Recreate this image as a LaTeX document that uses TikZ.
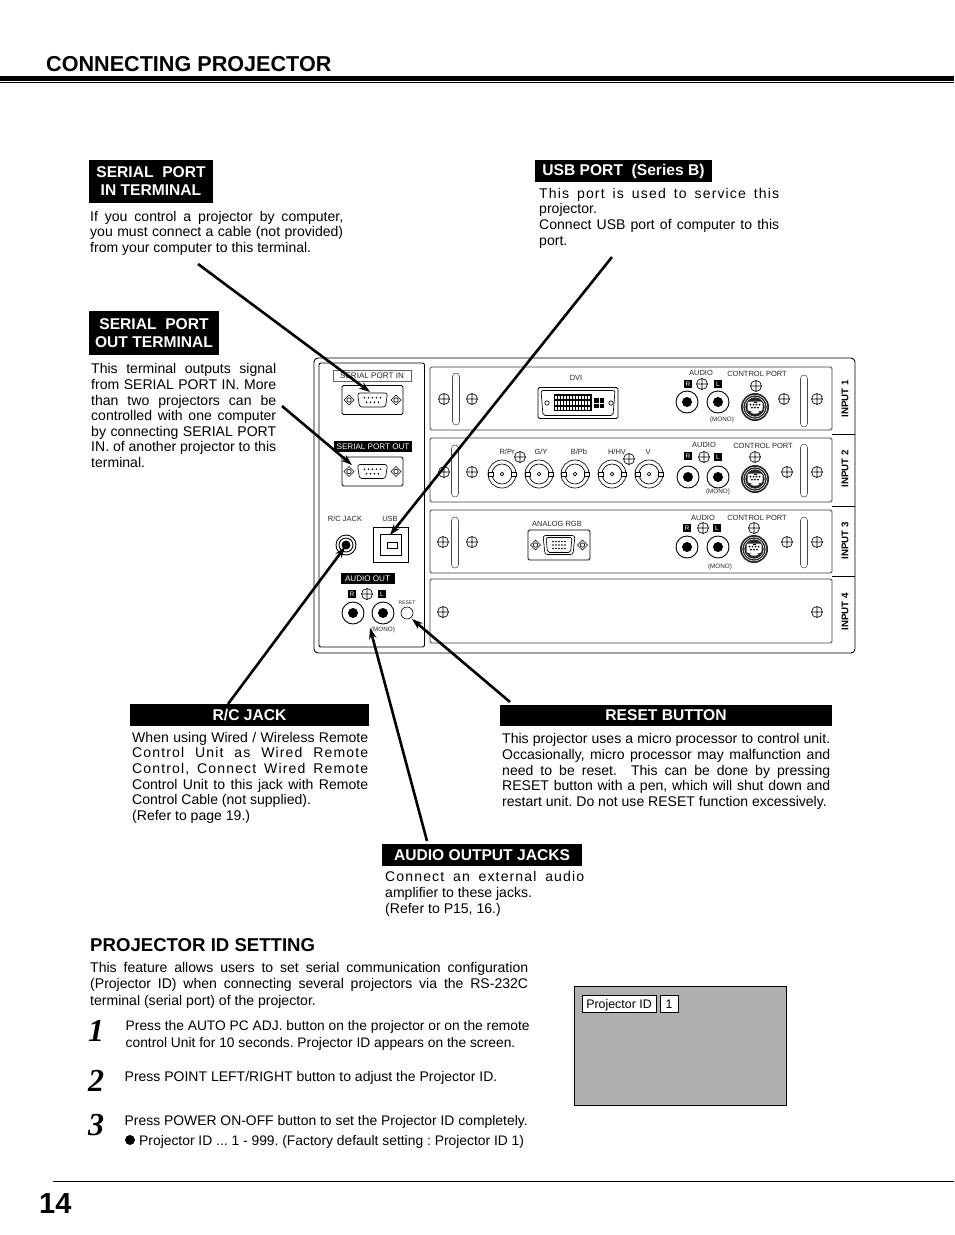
\documentclass[tikz,border=0pt]{standalone}
\usepackage{fontspec}
\setmainfont{Liberation Sans}
\newfontfamily\numfont{Liberation Serif}
\usetikzlibrary{arrows.meta}
\newcommand{\Jl}[1]{\leavevmode\hbox to\hsize{#1}}
\newcommand{\Jt}[1]{\leavevmode\hbox to\hsize{\addfontfeature{LetterSpace=8}#1}}
\newcommand{\Screw}[2]{\draw[screwline] (#1,#2) circle (5.5pt) +(-5.5,0) -- +(5.5,0) +(0,-5.5) -- +(0,5.5);}
\newcommand{\Slot}[3]{\draw[slotline,rounded corners=3.5pt] (#1-3.5,#2) rectangle (#1+3.5,#3);}
\newcommand{\Rca}[2]{\draw[jackline,fill=white] (#1,#2) circle (11pt); \fill (#1,#2) circle (5pt);}
\newcommand{\Bnc}[2]{\begin{scope}[shift={(#1,#2)}]
  \draw[screwline] (0,0) circle (14pt) (0,0) circle (10pt) (0,0) circle (1.8pt);
  \draw[screwline,fill=white] (-14,-2) rectangle (-9,2) (9,-2) rectangle (14,2);
\end{scope}}
\newcommand{\Din}[2]{\begin{scope}[shift={(#1,#2)}]
  \fill[black!85] (0,0) circle (14pt);
  \draw[white,line width=.5pt] (0,0) circle (12pt) (0,0) circle (10pt);
  \fill[white,rounded corners=2pt] (-7.5,-5.5) rectangle (7.5,4) (-4,4) rectangle (4,6.5);
  \foreach \px in {-4.5,-1.5,1.5,4.5} \fill (\px,-2.5) circle (1pt);
  \foreach \px in {-3,0,3} \fill (\px,.5) circle (1pt);
  \fill (-1.5,-5.5) rectangle (1.5,-3.8);
\end{scope}}
\newcommand{\Dia}[2]{\draw[screwline,fill=white] (#1-5,#2) -- (#1,#2-5) -- (#1+5,#2) -- (#1,#2+5) -- cycle (#1,#2) circle (2.2pt);}
\newcommand{\Dsub}[2]{\begin{scope}[shift={(#1,#2)}]
  \draw[jackline,rounded corners=1.5pt] (-30.5,-14.5) rectangle (30.5,14.5);
  \Dia{-23.5}{0}\Dia{23.5}{0}
  \draw[screwline,rounded corners=2.5pt] (-15,-7) -- (15,-7) -- (13,7) -- (-13,7) -- cycle;
  \foreach \px in {-8,-4,0,4,8} \fill (\px,-2.2) circle (.9pt);
  \foreach \px in {-6,-2,2,6} \fill (\px,2.2) circle (.9pt);
\end{scope}}
\newcommand{\Vga}[2]{\begin{scope}[shift={(#1,#2)}]
  \draw[jackline,rounded corners=1.5pt] (-31,-15) rectangle (31,15);
  \Dia{-23.5}{0}\Dia{23.5}{0}
  \draw[screwline,rounded corners=2.5pt] (-16,-9.5) -- (16,-9.5) -- (14,9.5) -- (-14,9.5) -- cycle;
  \draw[screwline,rounded corners=2pt] (-13,-7.5) -- (13,-7.5) -- (11.5,7.5) -- (-11.5,7.5) -- cycle;
  \foreach \py in {-3.5,0,3.5}{\foreach \px in {-6,-3,0,3,6} \fill (\px,\py) circle (.9pt);}
\end{scope}}
\newcommand{\Dvi}[2]{\begin{scope}[shift={(#1,#2)}]
  \draw[jackline,rounded corners=1.5pt] (-40,-15.5) rectangle (40,15.5);
  \draw[screwline,rounded corners=2pt] (-37,-12.5) -- (37,-12.5) -- (35,12.5) -- (-35,12.5) -- cycle;
  \draw[screwline,fill=white] (-31,0) circle (2.2pt) (33,0) circle (2.2pt);
  \fill (-24,-9) rectangle (14,8);
  \fill[white] (14,-9) rectangle (26,8);
  \foreach \py in {-7.5,-2,3.5}{\foreach \px in {-23,-20,...,-7}{\fill[white] (\px,\py) rectangle +(2,3.5);}
    \foreach \px in {-5,-2,...,12}{\fill[white] (\px,\py) rectangle +(2,3.5);}}
  \fill (16,-5) rectangle (26,5);
  \draw[white,line width=.7pt] (21,-5) -- (21,5) (16,0) -- (26,0);
\end{scope}}
\tikzset{
  screwline/.style={line width=.65pt},
  slotline/.style={line width=.55pt,draw=black!70},
  jackline/.style={line width=.9pt},
  baybox/.style={draw=black!75,line width=.9pt,rounded corners=1.5pt},
  para/.style={anchor=north west,inner sep=0pt,text width=#1pt,align=left,
    font=\fontsize{14.05}{15.6}\selectfont\frenchspacing,
    execute at begin node={\spaceskip=0pt \xspaceskip=0pt }},
  tiny/.style={inner sep=0pt,font=\fontsize{7.5}{8}\selectfont,text=black!85},
  smallr/.style={inner sep=0pt,font=\fontsize{6.3}{7}\selectfont,text=black!85},
  blacktag/.style={fill=black,text=white,inner sep=0pt,font=\bfseries\fontsize{15.6}{18}\selectfont,align=center},
  tag/.style={fill=black,text=white,inner sep=0pt,font=\fontsize{8.1}{9}\selectfont},
  rl/.style={fill=black,text=white,inner sep=0pt,minimum width=8pt,minimum height=8pt,font=\fontsize{6.5}{7}\selectfont},
  inputlab/.style={rotate=90,inner sep=0pt,font=\bfseries\fontsize{9.7}{10}\selectfont},
  callout/.style={line width=2.6pt,-{Stealth[length=11pt,width=7.5pt]}},
  stepnum/.style={anchor=base,inner sep=0pt,font=\numfont\bfseries\itshape\fontsize{32}{32}\selectfont},
  osdtext/.style={draw=black,line width=.5pt,fill=white,minimum height=17pt,inner sep=0pt,text height=11pt,text depth=2pt,font=\fontsize{12.4}{14}\selectfont},
}
\begin{document}
\begin{tikzpicture}[x=1pt,y=-1pt]
\path[use as bounding box,fill=white] (0,0) rectangle (954,1235);
% header
\node[anchor=base west,inner sep=0pt,font=\bfseries\fontsize{21.6}{26}\selectfont] (title) at (46,71.5) {CONNECTING PROJECTOR};
\fill (0,76) rectangle (954,80.5);
\fill (0,81.8) rectangle (954,82.8);
% footer
\fill (53,1181) rectangle (954,1182);
\node[anchor=base west,inner sep=0pt,font=\bfseries\fontsize{29}{34}\selectfont] (page) at (39,1213) {14};
% callout headings
\node[blacktag,minimum width=124pt,minimum height=43pt] (hin) at (151,181.5) {SERIAL\ \ PORT\\IN TERMINAL};
\node[blacktag,minimum width=177pt,minimum height=22pt] (husb) at (623.5,171) {\raisebox{-.8pt}{USB PORT\ \ (Series B)}};
\node[blacktag,minimum width=130pt,minimum height=44pt] (hout) at (154,333) {SERIAL\ \ PORT\\OUT TERMINAL};
\node[blacktag,minimum width=239pt,minimum height=22pt] (hrc) at (249.5,715) {\raisebox{-.5pt}{R/C JACK}};
\node[blacktag,minimum width=332pt,minimum height=21pt] (hreset) at (666,715.5) {RESET BUTTON};
\node[blacktag,minimum width=200pt,minimum height=22pt] (haudio) at (482,855) {AUDIO OUTPUT JACKS};
% paragraphs
\node[para=253] (pin) at (90,211) {\Jl{If you control a projector by computer,}\\\Jl{you must connect a cable (not provided)}\\from your computer to this terminal.};
\node[para=240] (pusb) at (539,188) {\Jt{This port is used to service this}\\projector.\\\Jl{Connect USB port of computer to this}\\port.};
\node[para=185] (pout) at (91,363.5) {\Jl{This terminal outputs signal}\\\Jl{from SERIAL PORT IN. More}\\\Jl{than two projectors can be}\\\Jl{controlled with one computer}\\\Jl{by connecting SERIAL PORT}\\\Jl{IN. of another projector to this}\\terminal.};
\node[para=236] (prc) at (132,732) {\Jl{When using Wired / Wireless Remote}\\\Jt{Control Unit as Wired Remote}\\\Jt{Control, Connect Wired Remote}\\\Jl{Control Unit to this jack with Remote}\\Control Cable (not supplied).\\(Refer to page 19.)};
\node[para=328] (preset) at (502,733.5) {\Jl{This projector uses a micro processor to control unit.}\\\Jl{Occasionally, micro processor may malfunction and}\\\Jl{need to be reset.\ \ This can be done by pressing}\\\Jl{RESET button with a pen, which will shut down and}\\restart unit. Do not use RESET function excessively.};
\node[para=199,font=\fontsize{14.05}{15.9}\selectfont\frenchspacing] (paudio) at (385,871) {\Jt{Connect an external audio}\\amplifier to these jacks.\\(Refer to P15, 16.)};
% projector id
\node[anchor=base west,inner sep=0pt,font=\bfseries\fontsize{18.6}{22}\selectfont] (hid) at (90,951) {PROJECTOR ID SETTING};
\node[para=438,font=\fontsize{14.05}{16.5}\selectfont\frenchspacing] (pid) at (90,962) {\Jl{This feature allows users to set serial communication configuration}\\\Jl{(Projector ID) when connecting several projectors via the RS-232C}\\terminal (serial port) of the projector.};
\node[stepnum] (n1) at (96,1041) {1};
\node[stepnum] (n2) at (96,1091) {2};
\node[stepnum] (n3) at (96,1135) {3};
\node[para=440,font=\fontsize{13.8}{17}\selectfont\frenchspacing] (s1) at (125.5,1020) {Press the AUTO PC ADJ. button on the projector or on the remote\\control Unit for 10 seconds. Projector ID appears on the screen.};
\node[para=440,font=\fontsize{14}{17}\selectfont\frenchspacing] (s2) at (124.5,1071) {Press POINT LEFT/RIGHT button to adjust the Projector ID.};
\node[para=440,font=\fontsize{13.9}{17}\selectfont\frenchspacing] (s3) at (124.5,1115) {Press POWER ON-OFF button to set the Projector ID completely.};
\fill (130,1140) circle (5pt);
\node[para=420,font=\fontsize{13.85}{17}\selectfont\frenchspacing] (s3b) at (139,1135) {Projector ID ... 1 - 999. (Factory default setting : Projector ID 1)};
% osd
\node[draw=black,line width=.5pt,fill=black!31,minimum width=212pt,minimum height=119pt,inner sep=0pt] (osd) at (680.5,1045.5) {};
\node[osdtext,minimum width=74pt] (osdl) at (619,1003.5) {Projector ID};
\node[osdtext,minimum width=18pt] (osdv) at (669,1003.5) {1};
% panel
\draw[line width=.9pt,rounded corners=4pt] (314,358) rectangle (855,653);
\draw[line width=.9pt,rounded corners=2pt] (319,363) rectangle (424.5,647);
\draw[baybox] (430,367) rectangle (832,430);
\draw[baybox] (430,438) rectangle (832,502);
\draw[baybox] (430,510) rectangle (832,573);
\draw[baybox] (430,579) rectangle (832,643);
\draw[line width=.7pt] (832,434) -- (855,434) (832,506) -- (855,506) (832,576) -- (855,576);
\node[inputlab] (i1) at (845,399) {INPUT 1};
\node[inputlab] (i2) at (845,469) {INPUT 2};
\node[inputlab] (i3) at (845,541) {INPUT 3};
\node[inputlab] (i4) at (845,612) {INPUT 4};
% left column
\node[draw=black!60,line width=.5pt,fill=white,minimum width=78pt,minimum height=11pt,inner sep=0pt,font=\fontsize{8.1}{9}\selectfont,text=black!85] (lin) at (372,375.5) {SERIAL PORT IN};
\Dsub{372.5}{400}
\node[tag,minimum width=78pt,minimum height=11pt] (lout) at (373,446.5) {SERIAL PORT OUT};
\Dsub{372.5}{471.5}
\node[tiny] (lrc) at (345,519) {R/C JACK};
\node[tiny] (lusb) at (390,519) {USB};
\draw[jackline] (346,545) circle (10pt) (346,545) circle (7pt);
\fill (346,545) circle (4.5pt);
\draw[jackline] (373.5,527.5) rectangle (408.5,562);
\draw[jackline] (380.5,534) rectangle (401.5,555);
\draw[screwline] (387,542) rectangle (397,548);
\node[tag,minimum width=54pt,minimum height=11pt] (laud) at (367.5,578.5) {AUDIO OUT};
\node[rl] (rr0) at (352,594) {R};
\Screw{367}{594}
\node[rl] (ll0) at (382,594) {L};
\Rca{353}{613}
\Rca{383}{613}
\node[inner sep=0pt,font=\fontsize{5}{6}\selectfont,text=black!85] (lrst) at (407,602.5) {RESET};
\draw[screwline] (407,613) circle (6pt);
\node[smallr] (mono0) at (383,630) {(MONO)};
% bay screws and slots
\Slot{456}{373}{425}\Slot{804}{375}{427}
\Slot{455}{445}{497}\Slot{804}{444}{497}
\Slot{455}{517}{568}\Slot{804}{517}{568}
\Screw{444}{399}\Screw{472}{399}\Screw{784}{399}\Screw{817}{399}
\Screw{444}{472}\Screw{472}{472}\Screw{787}{472}\Screw{817}{472}
\Screw{443}{542}\Screw{472}{542}\Screw{787}{542}\Screw{817}{542}
\Screw{443}{612}\Screw{817}{612}
% bay 1
\node[tiny] (ldvi) at (576,377.5) {DVI};
\Dvi{578}{403}
\node[tiny] (a1) at (701,372.5) {AUDIO};
\node[tiny] (c1) at (757,373.5) {CONTROL PORT};
\node[rl] (r1) at (688,384) {R};
\Screw{702}{384}
\node[rl] (l1) at (718,384) {L};
\Rca{687}{402}\Rca{718}{402}
\Screw{756}{386}
\Din{755}{407}
\node[smallr] (m1) at (722,420) {(MONO)};
% bay 2
\node[tiny] (b1) at (507,452) {R/Pr};
\node[tiny] (b2) at (541,452) {G/Y};
\node[tiny] (b3) at (579,452) {B/Pb};
\node[tiny] (b4) at (617,452) {H/HV};
\node[tiny] (b5) at (648,452) {V};
\Screw{520}{457}\Screw{629}{459}
\Bnc{502}{474}\Bnc{539}{474}\Bnc{575}{474}\Bnc{612}{474}\Bnc{649}{474}
\node[tiny] (a2) at (704,444.5) {AUDIO};
\node[tiny] (c2) at (763,445.5) {CONTROL PORT};
\node[rl] (r2) at (688,456) {R};
\Screw{704}{457}
\node[rl] (l2) at (718,457) {L};
\Rca{688}{477}\Rca{718}{477}
\Screw{755}{457}
\Din{755}{479}
\node[smallr] (m2) at (718,492) {(MONO)};
% bay 3
\node[tiny] (lrgb) at (557,523.5) {ANALOG RGB};
\Vga{559}{545}
\node[tiny] (a3) at (703,517.5) {AUDIO};
\node[tiny] (c3) at (757,517.5) {CONTROL PORT};
\node[rl] (r3) at (687,528) {R};
\Screw{703}{528}
\node[rl] (l3) at (717,528) {L};
\Rca{687}{547}\Rca{718}{547}
\Screw{754}{528}
\Din{754}{549}
\node[smallr] (m3) at (720,567) {(MONO)};
% connectors
\coordinate (f1) at (198,264);\coordinate (t1) at (370,392);
\coordinate (f2) at (282,406);\coordinate (t2) at (352,465);
\coordinate (f3) at (612,257);\coordinate (t3) at (390,535);
\coordinate (f4) at (228,704);\coordinate (t4) at (345,547);
\coordinate (f5) at (510,702);\coordinate (t5) at (412,619);
\coordinate (f6) at (427,841);\coordinate (t6) at (370,628);
\draw[callout] (f1) -- (t1);
\draw[callout] (f2) -- (t2);
\draw[callout] (f3) -- (t3);
\draw[callout] (f4) -- (t4);
\draw[callout] (f5) -- (t5);
\draw[callout] (f6) -- (t6);
\end{tikzpicture}
\end{document}
